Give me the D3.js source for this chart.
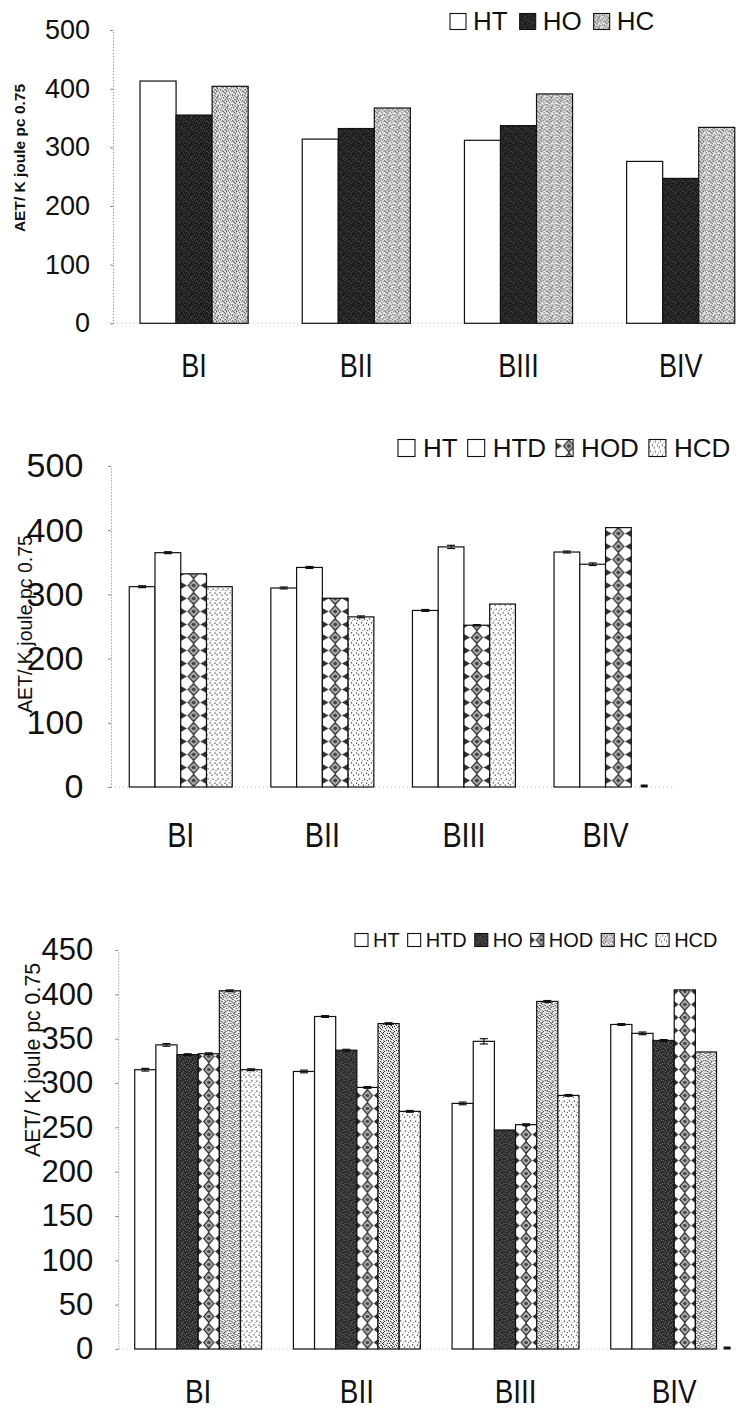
<!DOCTYPE html>
<html><head><meta charset="utf-8">
<script src="https://cdn.jsdelivr.net/npm/d3@7"></script>
<style>
html,body{margin:0;padding:0;background:#fff;}
svg{display:block;}
text{font-family:"Liberation Sans",Arial,sans-serif;fill:#111;}
</style></head><body>
<svg id="chart" width="736" height="1411"></svg>
<script>
// ---------- data ----------
const categories = ["BI", "BII", "BIII", "BIV"];
const yLabelText = "AET/ K joule pc 0.75";

// panel 1
const p1Series = ["HT", "HO", "HC"];
const p1HT = [413, 314, 312, 276];
const p1HO = [355, 332, 337, 247];
const p1HC = [404, 367, 391, 334];
const p1Ticks = [0, 100, 200, 300, 400, 500];

// panel 2
const p2Series = ["HT", "HTD", "HOD", "HCD"];
const p2HT = [312, 310, 275, 366];
const p2HTD = [365, 342, 374, 347];
const p2HOD = [332, 294, 252, 404];
const p2HCD = [312, 265, 285, 0];
const p2ErrHT = [1.5, 1.5, 1.5, 1.5];
const p2ErrHTD = [1.5, 1.5, 2.5, 2];
const p2ErrHOD = [0, 0, 1, 0];
const p2ErrHCD = [0, 1.5, 0, 1];
const p2Ticks = [0, 100, 200, 300, 400, 500];

// panel 3
const p3Series = ["HT", "HTD", "HO", "HOD", "HC", "HCD"];
const p3HT = [315, 313, 277, 366];
const p3HTD = [343, 375, 347, 356];
const p3HO = [332, 337, 247, 348];
const p3HOD = [333, 295, 253, 405];
const p3HC = [404, 367, 392, 335];
const p3HCD = [315, 268, 286, 0];
const p3ErrHT = [1.5, 1.5, 1.5, 1];
const p3ErrHTD = [1.5, 1, 3, 1.5];
const p3ErrHO = [1, 1, 0, 1];
const p3ErrHOD = [1, 1, 1, 0];
const p3ErrHC = [1, 1, 1, 0];
const p3ErrHCD = [1, 1, 1, 1];
const p3Ticks = [0, 50, 100, 150, 200, 250, 300, 350, 400, 450];

// ---------- drawing ----------
const svg = d3.select("#chart");
const defs = svg.append("defs");

const dotsDense = [[0,1],[3,0],[6,2],[8,1],[1,4],[5,3],[7,5],[9,4],[0,7],[3,6],[6,7],[9,8],[2,9],[4,8],[7,9],[5,5],[2,2],[8,6],[1,8],[4,4]];
const dotsSparse = [[1,1],[6,2],[3,5],[8,6],[5,8],[0,7],[9,3]];

function stipple(id, base, sets) {
  const p = defs.append("pattern").attr("id", id).attr("patternUnits", "userSpaceOnUse")
    .attr("width", 10).attr("height", 10);
  p.append("rect").attr("width", 10).attr("height", 10).attr("fill", base);
  sets.forEach(([dots, col, dx]) => {
    dots.forEach(d => p.append("rect").attr("x", (d[0] + dx) % 10).attr("y", d[1]).attr("width", 1).attr("height", 1).attr("fill", col));
  });
}
function plain(id) {
  const p = defs.append("pattern").attr("id", id).attr("patternUnits", "userSpaceOnUse").attr("width", 10).attr("height", 10);
  p.append("rect").attr("width", 10).attr("height", 10).attr("fill", "#fff");
}
function diamond(id, W, H) {
  const p = defs.append("pattern").attr("id", id).attr("patternUnits", "userSpaceOnUse")
    .attr("width", W).attr("height", H);
  p.append("rect").attr("width", W).attr("height", H).attr("fill", "#fff");
  const cx = W / 2, cy = H / 2, hw = Math.min(5.5, W * 0.24), hh = H * 0.46;
  p.append("line").attr("x1", cx).attr("x2", cx).attr("y1", 0).attr("y2", H).attr("stroke", "#333").attr("stroke-width", 0.8);
  p.append("polygon").attr("points", [[cx, cy - hh], [cx + hw, cy], [cx, cy + hh], [cx - hw, cy]].join(" "))
    .attr("fill", "#a0a0a0").attr("stroke", "#1e1e1e").attr("stroke-width", 1.1);
  p.append("circle").attr("cx", cx).attr("cy", cy).attr("r", hw * 0.45).attr("fill", "#444").attr("stroke", "#eee").attr("stroke-width", 0.6);
  p.append("polygon").attr("points", [[0, cy - 3.5], [cx - hw - 1.2, cy], [0, cy + 3.5]].join(" ")).attr("fill", "#333");
  p.append("polygon").attr("points", [[W, cy - 3.5], [cx + hw + 1.2, cy], [W, cy + 3.5]].join(" ")).attr("fill", "#333");
}

function makePatterns(pid, bw, hoBase, hoSpeck) {
  plain(`HT-${pid}`);
  plain(`HTD-${pid}`);
  stipple(`HO-${pid}`, hoBase, [[dotsDense, hoSpeck, 0]]);
  stipple(`HC-${pid}`, "#e8e8e8", [[dotsDense, "#2a2a2a", 0], [dotsSparse, "#777", 4]]);
  stipple(`HCD-${pid}`, "#fbfbfb", [[dotsSparse, "#4a4a4a", 0], [dotsSparse, "#999", 5]]);
  diamond(`HOD-${pid}`, bw, 13);
}

function drawPanel(cfg) {
  const g = svg.append("g");
  const y = d3.scaleLinear().domain([0, cfg.yMax]).range([cfg.y0, cfg.yTop]);
  const x0 = d3.scaleBand().domain(categories).range([cfg.axisX, cfg.xEnd])
    .paddingInner(cfg.padInner).paddingOuter(cfg.padOuter);
  const x1 = d3.scaleBand().domain(cfg.series).range([0, x0.bandwidth()]);
  const bw = x1.bandwidth();
  makePatterns(cfg.id, bw, cfg.hoBase, cfg.hoSpeck);

  // faint baseline
  g.append("line").attr("x1", cfg.axisX).attr("x2", Math.min(cfg.xEnd, 736))
    .attr("y1", y(0)).attr("y2", y(0)).attr("stroke", "#bbb").attr("stroke-dasharray", "1,3");

  // y axis
  const axis = d3.axisLeft(y).tickValues(cfg.ticks).tickSize(3).tickSizeOuter(0).tickPadding(cfg.tickPad);
  const ag = g.append("g").attr("transform", `translate(${cfg.axisX},0)`).call(axis);
  ag.select(".domain").attr("stroke", "#777").attr("stroke-dasharray", "1,2");
  ag.selectAll(".tick line").attr("stroke", "#888");
  ag.selectAll(".tick text").attr("font-size", cfg.tickFont).attr("fill", "#111");

  // bars
  const rows = categories.flatMap((c, i) => cfg.series.map(s => ({
    c, s, v: cfg.values[s][i], e: cfg.errors && cfg.errors[s] ? cfg.errors[s][i] : 0
  })));
  const bars = g.append("g").selectAll("g").data(rows).join("g")
    .attr("transform", d => `translate(${x0(d.c) + x1(d.s)},${y(0)})`);
  bars.filter(d => d.v > 0).append("rect")
    .attr("x", 0).attr("y", d => y(d.v) - y(0)).attr("width", bw).attr("height", d => y(0) - y(d.v))
    .attr("fill", d => `url(#${d.s}-${cfg.id})`).attr("stroke", "#111").attr("stroke-width", 1.2);

  // error bars
  const eb = g.append("g").attr("stroke", "#111");
  rows.filter(d => d.e > 0).forEach(d => {
    const cx = x0(d.c) + x1(d.s) + bw / 2;
    if (d.v === 0) {
      eb.append("line").attr("x1", cx - 3.5).attr("x2", cx + 3.5).attr("y1", y(0) - 1).attr("y2", y(0) - 1).attr("stroke-width", 3);
      return;
    }
    eb.append("line").attr("x1", cx).attr("x2", cx).attr("y1", y(d.v + d.e)).attr("y2", y(d.v - d.e)).attr("stroke-width", 1.2);
    [d.v + d.e, d.v - d.e].forEach(t => eb.append("line").attr("x1", cx - 4).attr("x2", cx + 4)
      .attr("y1", y(t)).attr("y2", y(t)).attr("stroke-width", 1.2));
  });

  // category labels (condensed look)
  g.append("g").selectAll("text").data(categories).join("text")
    .attr("transform", d => `translate(${x0(d) + x0.bandwidth() / 2},${cfg.catBaseline}) scale(0.82,1)`)
    .attr("text-anchor", "middle").attr("font-size", cfg.catFont)
    .text(d => d);

  // y label
  g.append("text").attr("transform", `translate(${cfg.yl.x},${cfg.yl.y}) rotate(-90)`)
    .attr("text-anchor", "middle").attr("dy", "0.35em")
    .attr("font-size", cfg.yl.size).attr("font-weight", cfg.yl.weight).text(yLabelText);

  // legend
  const L = cfg.legend;
  let cur = L.x;
  const lg = g.append("g");
  cfg.series.forEach(s => {
    const item = lg.append("g").attr("transform", `translate(${cur},${L.baseline - L.box - 0.5})`);
    item.append("rect").attr("width", L.box).attr("height", L.box)
      .attr("fill", `url(#${s}-${cfg.id})`).attr("stroke", "#111").attr("stroke-width", 1.1);
    const t = lg.append("text").attr("x", cur + L.box + L.gap1).attr("y", L.baseline)
      .attr("font-size", L.font).text(s);
    cur += L.box + L.gap1 + t.node().getComputedTextLength() + L.gap2;
  });
}

drawPanel({
  id: "p1", series: p1Series, values: { HT: p1HT, HO: p1HO, HC: p1HC }, errors: null,
  ticks: p1Ticks, yMax: 500, y0: 323.3, yTop: 30, axisX: 113, xEnd: 761.8,
  padInner: 1 / 3, padOuter: 1 / 6, tickFont: 27, tickPad: 20, hoBase: "#1a1a1a", hoSpeck: "#555",
  catFont: 33, catBaseline: 377,
  yl: { x: 20, y: 158, size: 15.5, weight: "bold" },
  legend: { x: 450, baseline: 30, box: 16, font: 26, gap1: 7, gap2: 12 }
});

drawPanel({
  id: "p2", series: p2Series, values: { HT: p2HT, HTD: p2HTD, HOD: p2HOD, HCD: p2HCD },
  errors: { HT: p2ErrHT, HTD: p2ErrHTD, HOD: p2ErrHOD, HCD: p2ErrHCD },
  ticks: p2Ticks, yMax: 500, y0: 787, yTop: 466, axisX: 111, xEnd: 675.3,
  padInner: 0.2726, padOuter: 0.129, tickFont: 34, tickPad: 24.7, hoBase: "#1a1a1a", hoSpeck: "#555",
  catFont: 35, catBaseline: 847,
  yl: { x: 25, y: 624, size: 19.5, weight: "normal" },
  legend: { x: 398, baseline: 457, box: 17, font: 26, gap1: 8, gap2: 10 }
});

drawPanel({
  id: "p3", series: p3Series, values: { HT: p3HT, HTD: p3HTD, HO: p3HO, HOD: p3HOD, HC: p3HC, HCD: p3HCD },
  errors: { HT: p3ErrHT, HTD: p3ErrHTD, HO: p3ErrHO, HOD: p3ErrHOD, HC: p3ErrHC, HCD: p3ErrHCD },
  ticks: p3Ticks, yMax: 450, y0: 1349, yTop: 950, axisX: 118.3, xEnd: 754.1,
  padInner: 0.2, padOuter: 0.1034, tickFont: 31, tickPad: 22, hoBase: "#2c2c2c", hoSpeck: "#6a6a6a",
  catFont: 34, catBaseline: 1403,
  yl: { x: 33, y: 1060, size: 21.3, weight: "normal" },
  legend: { x: 355, baseline: 947, box: 13, font: 20, gap1: 5, gap2: 8 }
});
</script>
</body></html>
